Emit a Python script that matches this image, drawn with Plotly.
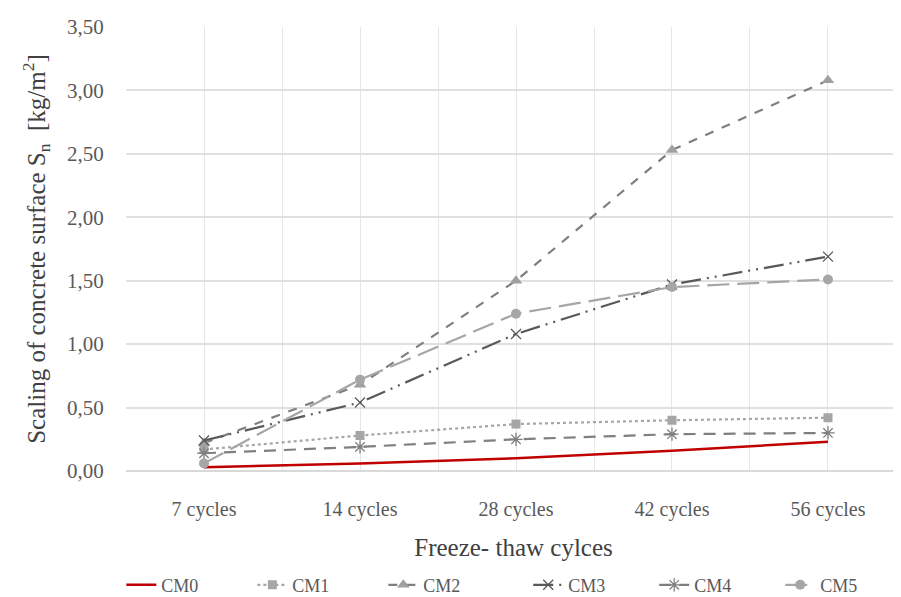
import plotly.graph_objects as go

categories = ["7 cycles", "14 cycles", "28 cycles", "42 cycles", "56 cycles"]
cm0 = [0.03, 0.06, 0.10, 0.16, 0.23]
cm1 = [0.17, 0.28, 0.37, 0.40, 0.42]
cm2 = [0.22, 0.68, 1.50, 2.53, 3.08]
cm3 = [0.24, 0.54, 1.08, 1.47, 1.69]
cm4 = [0.14, 0.19, 0.25, 0.29, 0.30]
cm5 = [0.06, 0.72, 1.24, 1.45, 1.51]
y_ticks = [0, 0.5, 1.0, 1.5, 2.0, 2.5, 3.0, 3.5]
y_tick_labels = ["0,00", "0,50", "1,00", "1,50", "2,00", "2,50", "3,00", "3,50"]

xi = list(range(len(categories)))
FONT = "Liberation Serif"

fig = go.Figure()
series = [
    ("CM0", cm0, dict(color="#C00000", width=2.5, dash="solid"), None, "legend"),
    ("CM1", cm1, dict(color="#A6A6A6", width=2.2, dash="dot"),
     dict(symbol="square", size=9, color="#A6A6A6"), "legend"),
    ("CM2", cm2, dict(color="#7F7F7F", width=2.2, dash="dash"),
     dict(symbol="triangle-up", size=11, color="#A0A0A0"), "legend"),
    ("CM3", cm3, dict(color="#595959", width=2.2, dash="20px,6px,2px,6px,2px,6px"),
     dict(symbol="x-thin-open", size=10, color="#595959", line=dict(width=1.3, color="#595959")), "legend2"),
    ("CM4", cm4, dict(color="#7F7F7F", width=2.2, dash="12px,8px"),
     dict(symbol="asterisk-open", size=11, color="#7F7F7F", line=dict(width=1.3, color="#7F7F7F")), "legend2"),
    ("CM5", cm5, dict(color="#A6A6A6", width=2.2, dash="22px,8px"),
     dict(symbol="circle", size=10, color="#A6A6A6"), "legend2"),
]
for name, vals, line, marker, lg in series:
    kw = dict(x=xi, y=vals, name=name, line=line, legend=lg)
    if marker is None:
        kw["mode"] = "lines"
    else:
        kw["mode"] = "lines+markers"
        kw["marker"] = marker
    fig.add_trace(go.Scatter(**kw))

legend_style = dict(orientation="h", xanchor="left", y=-0.257, yanchor="middle",
                    font=dict(size=18, color="#595959"),
                    tracegroupgap=0, bgcolor="rgba(0,0,0,0)")

# page body has an 8px default margin, so the figure is offset by 8px
fig.update_layout(
    width=893, height=589,
    margin=dict(l=118, r=0, t=19, b=126, autoexpand=False),
    paper_bgcolor="white", plot_bgcolor="white",
    font=dict(family=FONT, size=20, color="#595959"),
    showlegend=True,
    legend=dict(x=-0.006, entrywidth=86, **legend_style),
    legend2=dict(x=0.519, entrywidth=81, **legend_style),
)
fig.update_xaxes(
    range=[-0.5, 4.468], tickvals=xi, ticktext=categories, automargin=False,
    showgrid=True, gridcolor="#E6E6E6", gridwidth=1,
    minor=dict(tickvals=[-0.5, 0.5, 1.5, 2.5, 3.5, 4.5], showgrid=True,
               gridcolor="#E6E6E6", gridwidth=1),
    ticks="outside", ticklen=20, tickcolor="rgba(0,0,0,0)",
    zeroline=False, showline=False,
    title=dict(text="Freeze- thaw cylces", font=dict(size=25, color="#404040"), standoff=18),
)
fig.update_yaxes(
    range=[0, 3.5], tickvals=y_ticks, ticktext=y_tick_labels, automargin=False,
    showgrid=True, gridcolor="#E0E0E0", gridwidth=1.5,
    ticks="outside", ticklen=17, tickcolor="rgba(0,0,0,0)", tickfont=dict(size=21),
    zeroline=True, zerolinecolor="#D9D9D9", zerolinewidth=1.5, showline=False,
    title=dict(text="Scaling of concrete surface S<sub>n</sub>  [kg/m<sup>2</sup>]",
               font=dict(size=25, color="#404040"), standoff=14),
)

fig.write_html("out.html")
